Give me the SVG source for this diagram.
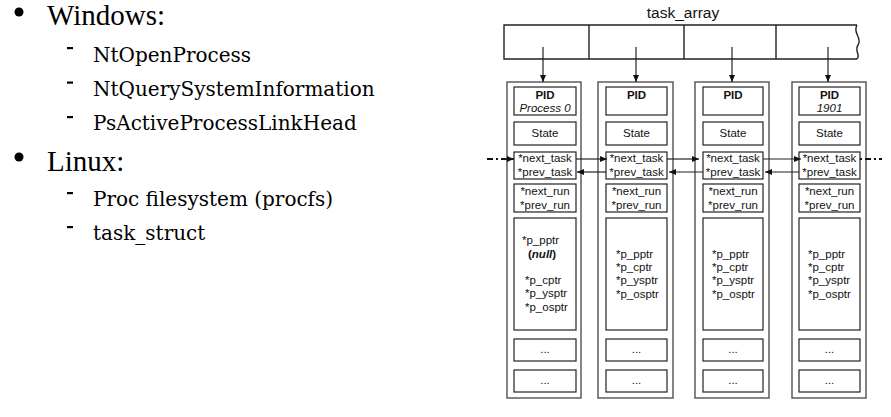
<svg xmlns="http://www.w3.org/2000/svg" width="891" height="417" viewBox="0 0 891 417">
<style>
.h{font-family:"Liberation Serif","DejaVu Serif",serif;font-size:29px;fill:#000}
.s{font-family:"DejaVu Serif","Liberation Serif",serif;font-size:20px;fill:#000}
.t{font-family:"Liberation Sans",Arial,sans-serif;font-size:11.5px;fill:#111}
.c{text-anchor:middle}
.b{font-weight:bold}
.i{font-style:italic}
.outer{fill:#fff;stroke:#444;stroke-width:1.3}
.inner{fill:#fff;stroke:#222;stroke-width:1.2}
.ln{stroke:#222;stroke-width:1.2;fill:none}
.dash{stroke:#111;stroke-width:2;fill:none;stroke-dasharray:6 3 2 3}
</style>
<defs>
<marker id="ah" markerWidth="7" markerHeight="6" refX="7" refY="3" orient="auto" markerUnits="userSpaceOnUse">
<path d="M0,0 L7,3 L0,6 z" fill="#111"/>
</marker>
</defs>
<rect width="891" height="417" fill="#fff"/>

<g id="bullets">
<circle cx="19" cy="12" r="4.5" fill="#000"/>
<text class="h" x="47" y="25">Windows:</text>
<rect x="67" y="47" width="6" height="2.2" fill="#000"/>
<text class="s" x="93" y="62">NtOpenProcess</text>
<rect x="67" y="81.5" width="6" height="2.2" fill="#000"/>
<text class="s" x="93" y="96">NtQuerySystemInformation</text>
<rect x="67" y="116" width="6" height="2.2" fill="#000"/>
<text class="s" x="93" y="130">PsActiveProcessLinkHead</text>
<circle cx="19" cy="157" r="4.5" fill="#000"/>
<text class="h" x="47" y="171">Linux:</text>
<rect x="67" y="192" width="6" height="2.2" fill="#000"/>
<text class="s" x="93" y="206">Proc filesystem (procfs)</text>
<rect x="67" y="226" width="6" height="2.2" fill="#000"/>
<text class="s" x="93" y="240">task_struct</text>
</g>

<g id="task_array">
<text class="t c" x="683" y="18" style="font-size:15.5px">task_array</text>
<path class="ln" d="M857,25 L504,25 L504,59 L857,59" style="stroke-width:1.4"/>
<path class="ln" d="M857,25 C852,33 863,38 858,45 C854,51 861,55 857,59" style="stroke-width:1.4"/>
<line class="ln" x1="589" y1="25" x2="589" y2="59" style="stroke-width:1.4"/>
<line class="ln" x1="684" y1="25" x2="684" y2="59" style="stroke-width:1.4"/>
<line class="ln" x1="776" y1="25" x2="776" y2="59" style="stroke-width:1.4"/>
</g>

<g id="proc0">
<rect class="outer" x="507" y="82" width="74" height="316"/>
<rect class="inner" x="514" y="87" width="62" height="28"/>
<text class="t c b" x="545" y="99">PID</text>
<text class="t c i" x="545" y="112">Process 0</text>
<rect class="inner" x="514" y="122" width="62" height="23"/>
<text class="t c" x="545" y="137">State</text>
<rect class="inner" x="514" y="152" width="62" height="27"/>
<text class="t c" x="545" y="162">*next_task</text>
<text class="t c" x="545" y="176">*prev_task</text>
<rect class="inner" x="514" y="184" width="62" height="28"/>
<text class="t c" x="545" y="195">*next_run</text>
<text class="t c" x="545" y="209">*prev_run</text>
<rect class="inner" x="514" y="218" width="62" height="112"/>
<text class="t" x="522" y="244">*p_pptr</text>
<text class="t" x="528" y="258"><tspan class="b">(</tspan><tspan class="b i">null</tspan><tspan class="b">)</tspan></text>
<text class="t" x="525" y="284">*p_cptr</text>
<text class="t" x="525" y="297">*p_ysptr</text>
<text class="t" x="525" y="311">*p_osptr</text>
<rect class="inner" x="514" y="339" width="62" height="22"/>
<text class="t c" x="545" y="353">...</text>
<rect class="inner" x="514" y="370" width="62" height="22"/>
<text class="t c" x="545" y="384">...</text>
</g>

<g id="proc1">
<rect class="outer" x="598" y="82" width="75" height="316"/>
<rect class="inner" x="606" y="87" width="61" height="28"/>
<text class="t c b" x="636.5" y="99">PID</text>
<rect class="inner" x="606" y="122" width="61" height="23"/>
<text class="t c" x="636.5" y="137">State</text>
<rect class="inner" x="606" y="152" width="61" height="27"/>
<text class="t c" x="636.5" y="162">*next_task</text>
<text class="t c" x="636.5" y="176">*prev_task</text>
<rect class="inner" x="606" y="184" width="61" height="28"/>
<text class="t c" x="636.5" y="195">*next_run</text>
<text class="t c" x="636.5" y="209">*prev_run</text>
<rect class="inner" x="606" y="218" width="61" height="112"/>
<text class="t" x="616" y="258">*p_pptr</text>
<text class="t" x="616" y="271">*p_cptr</text>
<text class="t" x="616" y="284">*p_ysptr</text>
<text class="t" x="616" y="298">*p_osptr</text>
<rect class="inner" x="606" y="339" width="61" height="22"/>
<text class="t c" x="636.5" y="353">...</text>
<rect class="inner" x="606" y="370" width="61" height="22"/>
<text class="t c" x="636.5" y="384">...</text>
</g>

<g id="proc2">
<rect class="outer" x="695" y="82" width="74" height="316"/>
<rect class="inner" x="703" y="87" width="60" height="28"/>
<text class="t c b" x="733" y="99">PID</text>
<rect class="inner" x="703" y="122" width="60" height="23"/>
<text class="t c" x="733" y="137">State</text>
<rect class="inner" x="703" y="152" width="60" height="27"/>
<text class="t c" x="733" y="162">*next_task</text>
<text class="t c" x="733" y="176">*prev_task</text>
<rect class="inner" x="703" y="184" width="60" height="28"/>
<text class="t c" x="733" y="195">*next_run</text>
<text class="t c" x="733" y="209">*prev_run</text>
<rect class="inner" x="703" y="218" width="60" height="112"/>
<text class="t" x="712" y="258">*p_pptr</text>
<text class="t" x="712" y="271">*p_cptr</text>
<text class="t" x="712" y="284">*p_ysptr</text>
<text class="t" x="712" y="298">*p_osptr</text>
<rect class="inner" x="703" y="339" width="60" height="22"/>
<text class="t c" x="733" y="353">...</text>
<rect class="inner" x="703" y="370" width="60" height="22"/>
<text class="t c" x="733" y="384">...</text>
</g>

<g id="proc1901">
<rect class="outer" x="792" y="82" width="74" height="316"/>
<rect class="inner" x="799" y="87" width="61" height="28"/>
<text class="t c b" x="829.5" y="99">PID</text>
<text class="t c i" x="829.5" y="112">1901</text>
<rect class="inner" x="799" y="122" width="61" height="23"/>
<text class="t c" x="829.5" y="137">State</text>
<rect class="inner" x="799" y="152" width="61" height="27"/>
<text class="t c" x="829.5" y="162">*next_task</text>
<text class="t c" x="829.5" y="176">*prev_task</text>
<rect class="inner" x="799" y="184" width="61" height="28"/>
<text class="t c" x="829.5" y="195">*next_run</text>
<text class="t c" x="829.5" y="209">*prev_run</text>
<rect class="inner" x="799" y="218" width="61" height="112"/>
<text class="t" x="808" y="258">*p_pptr</text>
<text class="t" x="808" y="271">*p_cptr</text>
<text class="t" x="808" y="284">*p_ysptr</text>
<text class="t" x="808" y="298">*p_osptr</text>
<rect class="inner" x="799" y="339" width="61" height="22"/>
<text class="t c" x="829.5" y="353">...</text>
<rect class="inner" x="799" y="370" width="61" height="22"/>
<text class="t c" x="829.5" y="384">...</text>
</g>

<g id="connectors">
<line class="ln" x1="543" y1="47" x2="543" y2="82" marker-end="url(#ah)"/>
<line class="ln" x1="636" y1="47" x2="636" y2="82" marker-end="url(#ah)"/>
<line class="ln" x1="732" y1="47" x2="732" y2="82" marker-end="url(#ah)"/>
<line class="ln" x1="828" y1="47" x2="828" y2="82" marker-end="url(#ah)"/>
<line class="dash" x1="487" y1="159" x2="507" y2="159"/>
<line class="ln" x1="505" y1="159" x2="514" y2="159" style="stroke-width:2" marker-end="url(#ah)"/>
<line class="ln" x1="576" y1="159" x2="607" y2="159" marker-end="url(#ah)"/>
<line class="ln" x1="667" y1="159" x2="699" y2="159" marker-end="url(#ah)"/>
<line class="ln" x1="763" y1="159" x2="801" y2="159" marker-end="url(#ah)"/>
<line class="dash" x1="860" y1="159" x2="882" y2="159" style="stroke-dasharray:2 3 6 3"/>
<line class="ln" x1="606" y1="172" x2="577" y2="172" marker-end="url(#ah)"/>
<line class="ln" x1="703" y1="172" x2="669" y2="172" marker-end="url(#ah)"/>
<line class="ln" x1="799" y1="172" x2="765" y2="172" marker-end="url(#ah)"/>
</g>
</svg>
